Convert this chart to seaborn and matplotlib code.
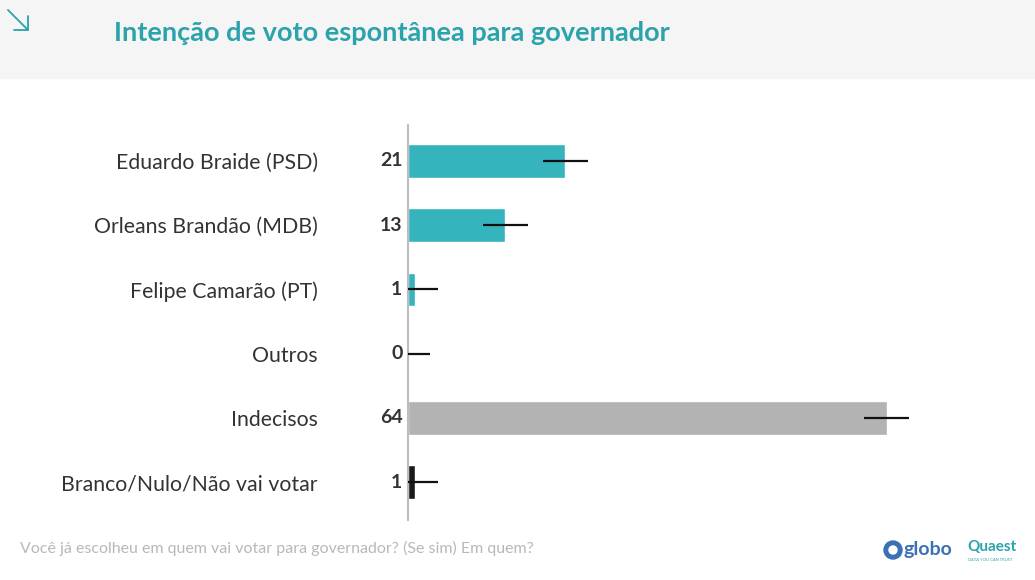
import matplotlib
matplotlib.use("Agg")
import matplotlib.pyplot as plt
import seaborn as sns
import pandas as pd
from matplotlib.patches import Rectangle, Ellipse
from matplotlib.lines import Line2D

candidatos = ["Eduardo Braide (PSD)", "Orleans Brandão (MDB)", "Felipe Camarão (PT)",
              "Outros", "Indecisos", "Branco/Nulo/Não vai votar"]
votos = [21, 13, 1, 0, 64, 1]
margem = [3, 3, 3, 3, 3, 3]
grupos = ["cand", "cand", "cand", "cand", "indec", "bnv"]
cores = {"cand": "#35b4be", "indec": "#b3b3b3", "bnv": "#1a1a1a"}

titulo = "Intenção de voto espontânea para governador"
pergunta = "Você já escolheu em quem vai votar para governador? (Se sim) Em quem?"

df = pd.DataFrame({"candidato": candidatos, "votos": votos, "grupo": grupos})

sns.set_style("white")
plt.rcParams["font.family"] = ["Lato", "DejaVu Sans"]

W, H = 1035, 580
fig = plt.figure(figsize=(W / 100, H / 100), dpi=100)
fig.patch.set_facecolor("white")

# faixa do cabeçalho
fig.add_artist(Rectangle((0, 1 - 78 / H), 1, 78 / H, transform=fig.transFigure,
                         color="#f5f5f5", zorder=0))
fig.text(114 / W, 1 - 33 / H, titulo, color="#2aa3ac", fontsize=19.5,
         fontweight="bold", va="center", ha="left")
# seta
fig.add_artist(Line2D([8 / W, 28 / W], [1 - 10 / H, 1 - 30 / H],
                      transform=fig.transFigure, color="#2aa3ac", lw=1.3))
fig.add_artist(Line2D([14 / W, 28 / W, 28 / W], [1 - 30 / H, 1 - 30 / H, 1 - 16 / H],
                      transform=fig.transFigure, color="#2aa3ac", lw=1.3))

ax = fig.add_axes([408 / W, 60 / H, 600 / W, 395 / H])
sns.barplot(data=df, x="votos", y="candidato", hue="grupo", palette=cores,
            orient="h", width=0.52, dodge=False, legend=False, saturation=1, ax=ax)

ys = list(range(len(candidatos)))
lo = [min(v, m) for v, m in zip(votos, margem)]
ax.errorbar(votos, ys, xerr=[lo, margem], fmt="none", ecolor="#111111",
            elinewidth=1.6, capsize=0, zorder=5)

for i, v in enumerate(votos):
    ax.annotate(str(v), xy=(0, i), xytext=(-4, 0), textcoords="offset points",
                ha="right", va="center", fontsize=14, fontweight="bold", color="#333333")

ax.set_xlim(0, 600 / 7.48)
ax.set_ylim(5.59, -0.56)
ax.set_xlabel("")
ax.set_ylabel("")
ax.set_xticks([])
ax.set_yticks(ys)
ax.set_yticklabels(candidatos, fontsize=15.3, color="#333333")
ax.tick_params(axis="y", length=0, pad=65)
for s in ["top", "right", "bottom"]:
    ax.spines[s].set_visible(False)
ax.spines["left"].set_color("#bdbdbd")
ax.spines["left"].set_linewidth(1.5)
ax.set_facecolor("none")

fig.text(20 / W, 1 - 548 / H, pergunta, color="#b8b8b8", fontsize=11.5,
         va="center", ha="left")

# logos
fig.add_artist(Ellipse((893 / W, 1 - 550 / H), 18 / W, 18 / H, transform=fig.transFigure,
                       color="#3b6fb6"))
fig.add_artist(Ellipse((893 / W, 1 - 550 / H), 8 / W, 8 / H, transform=fig.transFigure,
                       color="white"))
fig.text(904 / W, 1 - 549 / H, "globo", color="#3b6fb6", fontsize=14,
         fontweight="bold", va="center", ha="left")
fig.text(967 / W, 1 - 547 / H, "Quaest", color="#2aa3ac", fontsize=11,
         fontweight="bold", va="center", ha="left")
fig.text(968 / W, 1 - 560 / H, "DATA YOU CAN TRUST", color="#2aa3ac", fontsize=3,
         va="center", ha="left")

fig.savefig("out.png", dpi=100)
